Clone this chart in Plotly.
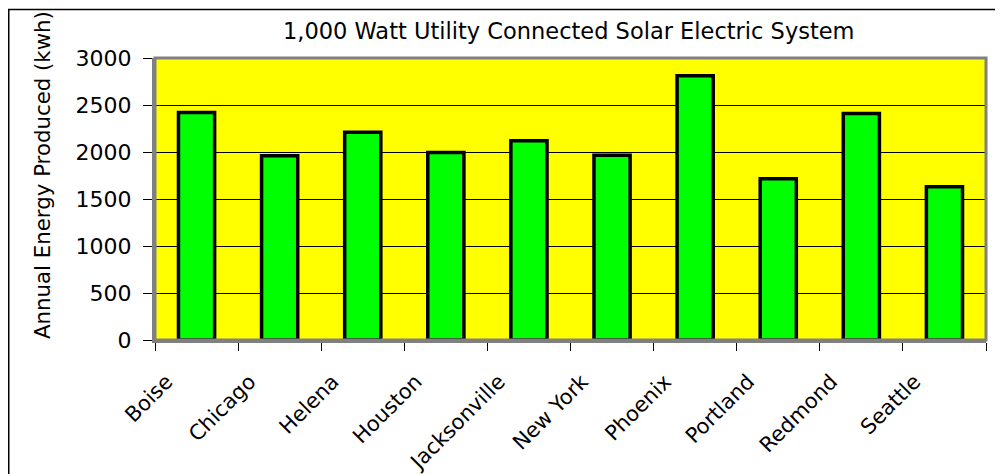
import plotly.graph_objects as go

cities = ["Boise", "Chicago", "Helena", "Houston", "Jacksonville",
          "New York", "Phoenix", "Portland", "Redmond", "Seattle"]
energy_kwh = [2420, 1960, 2210, 1995, 2120, 1965, 2810, 1715, 2410, 1630]
y_ticks = [0, 500, 1000, 1500, 2000, 2500, 3000]

title_text = "1,000 Watt Utility Connected Solar Electric System"
y_title = "Annual Energy Produced (kwh)"

FONT = "DejaVu Sans, Liberation Sans, Arial, sans-serif"

# page has an 8px body margin; figure fills the rest of the window
OFF = 8
W, H = 1003 - OFF, 474 - OFF
# plot area in page pixels
PL, PR, PT, PB = 155, 986, 58, 340
L, T = PL - OFF, PT - OFF
R = W - (PR - OFF)
B = H - (PB - OFF)
pw = PR - PL
ph = PB - PT

def px_x(x):
    return (x - PL) / pw

def px_y(y):
    return (PB - y) / ph

fig = go.Figure()
fig.add_trace(go.Bar(
    x=cities, y=energy_kwh,
    marker=dict(color="#00FF00", line=dict(color="black", width=3.5)),
    showlegend=False,
))

fig.update_layout(
    width=W, height=H,
    margin=dict(l=L, r=R, t=T, b=B, autoexpand=False),
    paper_bgcolor="white",
    plot_bgcolor="#FFFF00",
    bargap=0.565,
    font=dict(family=FONT, color="black", size=20),
    xaxis=dict(
        type="category",
        tickson="boundaries",
        ticks="outside", ticklen=8, tickcolor="black", tickwidth=1,
        tickangle=-45,
        tickfont=dict(size=21),
        showgrid=False,
        showline=True, linecolor="#808080", linewidth=3,
        ticklabelshift=-30,
        ticklabelstandoff=18,
    ),
    yaxis=dict(
        range=[0, 3000],
        tickvals=y_ticks,
        ticks="outside", ticklen=9, tickcolor="black", tickwidth=1,
        tickfont=dict(size=22),
        showgrid=True, gridcolor="black", gridwidth=1,
        showline=True, linecolor="#808080", linewidth=3,
        zeroline=False,
        ticklabelstandoff=7,
    ),
    shapes=[
        dict(type="rect", xref="paper", yref="paper", x0=0, x1=1, y0=0, y1=1,
             line=dict(color="#808080", width=3), layer="above"),
        dict(type="rect", xref="paper", yref="paper",
             x0=px_x(8.75), x1=px_x(1015), y0=px_y(490), y1=px_y(9.5),
             line=dict(color="black", width=1.5), layer="below"),
    ],
    annotations=[
        dict(text=title_text, xref="paper", yref="paper",
             x=px_x(569), y=px_y(31), xanchor="center", yanchor="middle",
             showarrow=False, font=dict(size=22.5)),
        dict(text=y_title, xref="paper", yref="paper",
             x=px_x(42), y=px_y(175), xanchor="center", yanchor="middle",
             textangle=-90, showarrow=False, font=dict(size=21.3)),
    ],
)

fig.write_html("out.html")
